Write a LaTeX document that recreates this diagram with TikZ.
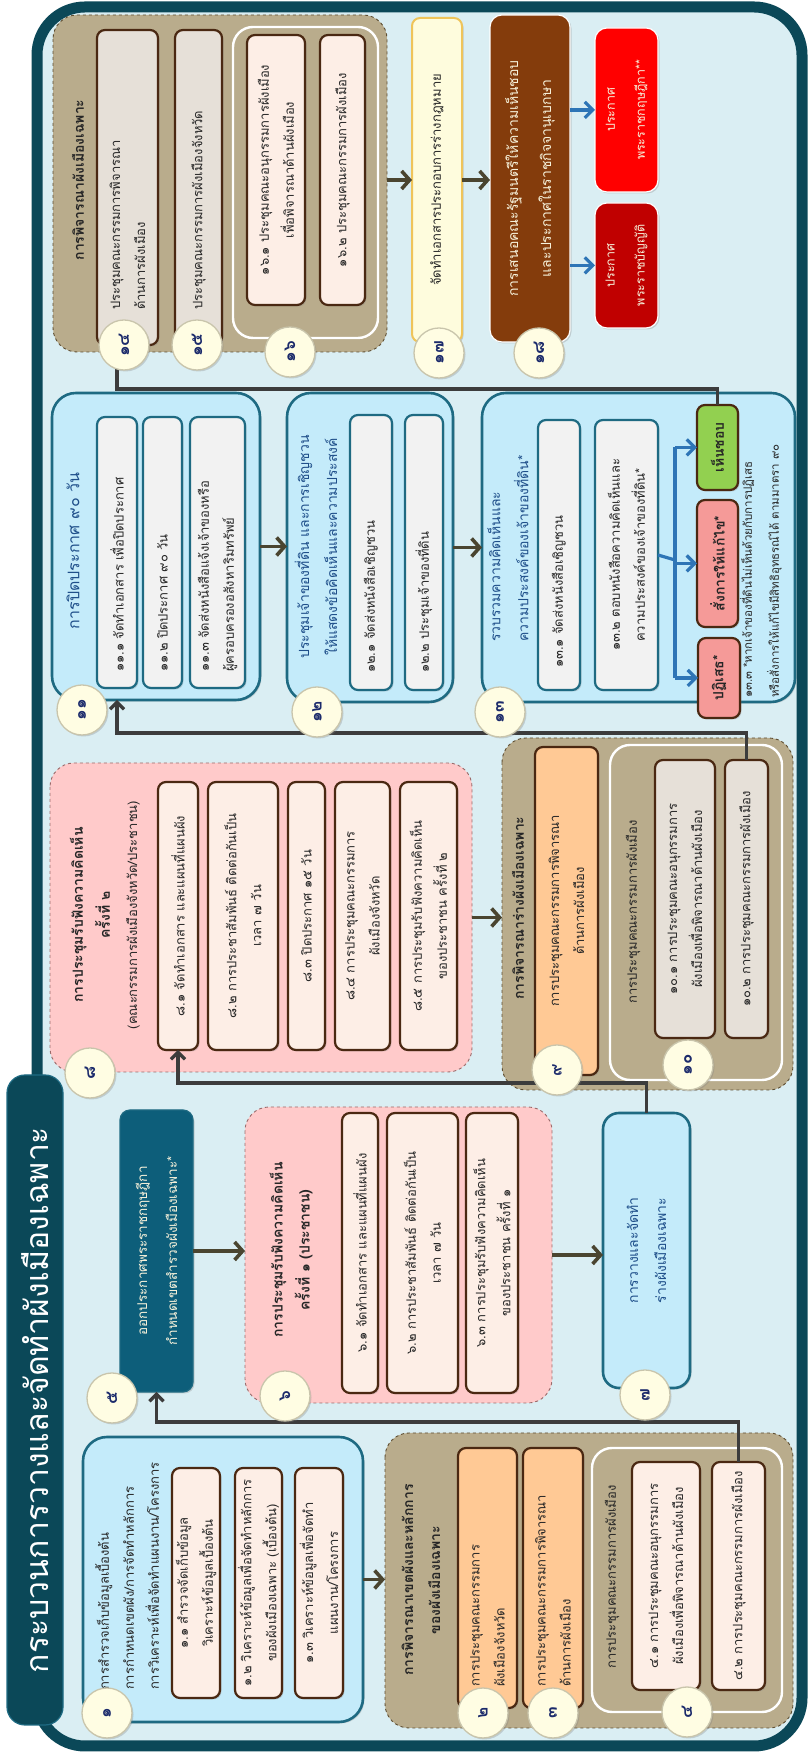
\documentclass[tikz,border=0pt]{standalone}
\usepackage{fontspec}
\setmainfont{Loma}[Script=Thai]
\usetikzlibrary{arrows.meta,shadows}
\definecolor{frame}{HTML}{0B4858}
\definecolor{bgc}{HTML}{DAEEF3}
\definecolor{lblue}{HTML}{C4EBFA}
\definecolor{tealb}{HTML}{1E6A82}
\definecolor{pinkg}{HTML}{FFCACA}
\definecolor{pinkb}{HTML}{9A6A6A}
\definecolor{browng}{HTML}{B9AC8C}
\definecolor{brownb}{HTML}{5E4E32}
\definecolor{cream}{HTML}{FDEEE6}
\definecolor{dbrown}{HTML}{4A2812}
\definecolor{greyb}{HTML}{F2F2F2}
\definecolor{orangeb}{HTML}{FFC995}
\definecolor{beige}{HTML}{E6E0D8}
\definecolor{boxv}{HTML}{0D5E7A}
\definecolor{txtcream}{HTML}{F6F1DA}
\definecolor{titleblue}{HTML}{1F4F8A}
\definecolor{bxvii}{HTML}{FEFCDD}
\definecolor{goldb}{HTML}{EFC45A}
\definecolor{bxviii}{HTML}{843C0C}
\definecolor{redA}{HTML}{FF0000}
\definecolor{redB}{HTML}{C00000}
\definecolor{okgreen}{HTML}{92D050}
\definecolor{nopink}{HTML}{F59A98}
\definecolor{arrblue}{HTML}{2E75B6}
\definecolor{circf}{HTML}{FFFDE3}
\definecolor{circb}{HTML}{C9C5AC}
\definecolor{navyc}{HTML}{1B2A6B}
\definecolor{connc}{HTML}{3C3C3C}
\definecolor{olivec}{HTML}{4A4530}
\definecolor{ttxt}{HTML}{262626}
\newcommand\fitem{\fontsize{13}{25}\selectfont}
\newcommand\fhead{\fontsize{14}{27}\selectfont\bfseries}
\newcommand\fbt{\fontsize{14}{28}\selectfont}
\newcommand\fcirc{\fontsize{17}{17}\selectfont\bfseries}
\newcommand\fnote{\fontsize{11.5}{27}\selectfont}
\tikzset{
 pp/.style 2 args={at={({1753-(#2)},{-(#1)})}},
 ext/.style n args={4}{at={({1753-((#3)+(#4))/2},{-((#1)+(#2))/2})},minimum width={((#4)-(#3))*1pt},minimum height={((#2)-(#1))*1pt}},
 bx/.style={inner sep=0pt,outer sep=0pt,font=\fitem,align=center,text=ttxt},
 shad/.style={drop shadow={shadow xshift=1.5pt,shadow yshift=-1.5pt,opacity=0.3}},
 bluegrp/.style={bx,draw=tealb,line width=2.6pt,fill=lblue,rounded corners=24pt,shad},
 pinkgrp/.style={bx,draw=pinkb,dashed,line width=0.9pt,fill=pinkg,rounded corners=24pt},
 browngrp/.style={bx,draw=brownb,dashed,line width=0.9pt,fill=browng,rounded corners=24pt},
 whitegrp/.style={bx,draw=white,line width=2.4pt,rounded corners=20pt},
 creambox/.style={bx,draw=dbrown,line width=2.2pt,fill=cream,rounded corners=8pt,shad},
 beigebox/.style={creambox,fill=beige},
 orangebox/.style={creambox,fill=orangeb},
 greybox/.style={bx,draw=tealb,line width=2.2pt,fill=greyb,rounded corners=8pt,shad},
 lt/.style={align=left,text width=#1},
 ttl/.style={bx,font=\fhead},
 btl/.style={bx,font=\fbt,text=titleblue},
 circ/.style={circle,draw=circb,line width=1.3pt,fill=circf,minimum size=50pt,inner sep=0pt,font=\fcirc,text=navyc,shad},
 cn/.style={draw=connc,line width=3.2pt,-{Straight Barb[length=7pt,width=14pt]}},
 sa/.style={draw=olivec,line width=3.6pt,-{Straight Barb[length=8pt,width=18pt]}},
 ba/.style={draw=arrblue,line width=3.2pt},
 bah/.style={ba,-{Straight Barb[length=8pt,width=16pt]}},
}
\begin{document}
\begin{tikzpicture}[x=1pt,y=1pt]
\useasboundingbox (0,0) rectangle (807,1753);
\begin{scope}[rotate=90,transform shape]
\draw[line width=11pt,draw=frame,fill=bgc,rounded corners=48pt] (7,-37) rectangle (1746,-802);
\node[bx,ext={7}{63}{1075}{1725},fill=frame,draw=tealb,line width=1.2pt,rounded corners=18pt,text=white,font=\fontsize{32}{32}\selectfont] (title) {กระบวนการวางและจัดทำผังเมืองเฉพาะ};

% ---- 1
\node[bluegrp,ext={83}{363}{1437}{1722}] (m1) {};
\node[bx,anchor=west,align=left,pp={127}{1690}] (t1) {การสำรวจเก็บข้อมูลเบื้องต้น\\การกำหนดเขตผัง/การจัดทำหลักการ\\การวิเคราะห์เพื่อจัดทำแผนงาน/โครงการ};
\node[creambox,ext={172}{220}{1468}{1698}] (s1a) {๑.๑ สำรวจจัดเก็บข้อมูล\\วิเคราะห์ข้อมูลเบื้องต้น};
\node[creambox,ext={235}{282}{1468}{1698}] (s1b) {๑.๒ วิเคราะห์ข้อมูลเพื่อจัดทำหลักการ\\ของผังเมืองเฉพาะ (เบื้องต้น)};
\node[creambox,ext={295}{343}{1468}{1698}] (s1c) {๑.๓ วิเคราะห์ข้อมูลเพื่อจัดทำ\\แผนงาน/โครงการ};

% ---- 2-4
\node[browngrp,ext={385}{793}{1433}{1728}] (g24) {};
\node[ttl,pp={421}{1580}] (t24) {การพิจารณาเขตผังและหลักการ\\ของผังเมืองเฉพาะ};
\node[orangebox,lt=218pt,ext={458}{517}{1448}{1708}] (m2) {การประชุมคณะกรรมการ\\ผังเมืองจังหวัด};
\node[orangebox,lt=218pt,ext={523}{583}{1448}{1708}] (m3) {การประชุมคณะกรรมการพิจารณา\\ด้านการผังเมือง};
\node[whitegrp,ext={592}{782}{1448}{1712}] (sg4) {};
\node[bx,pp={612}{1577}] (t4) {การประชุมคณะกรรมการผังเมือง};
\node[creambox,ext={632}{700}{1462}{1690}] (s4a) {๔.๑ การประชุมคณะอนุกรรมการ\\ผังเมืองเพื่อพิจารณาด้านผังเมือง};
\node[creambox,ext={712}{765}{1462}{1690}] (s4b) {๔.๒ การประชุมคณะกรรมการผังเมือง};

% ---- 5,6,7
\node[bx,ext={120}{193}{1110}{1392},fill=boxv,draw=tealb,line width=1.2pt,rounded corners=10pt,text=txtcream,font=\fontsize{13.5}{30}\selectfont,shad] (m5) {ออกประกาศพระราชกฤษฎีกา\\กำหนดเขตสำรวจผังเมืองเฉพาะ*};
\node[pinkgrp,ext={245}{552}{1107}{1403}] (m6) {};
\node[ttl,pp={291}{1250}] (t6) {การประชุมรับฟังความคิดเห็น\\ครั้งที่ ๑ (ประชาชน)};
\node[creambox,ext={342}{378}{1113}{1393}] (s6a) {๖.๑ จัดทำเอกสาร และแผนที่แผนผัง};
\node[creambox,ext={387}{458}{1113}{1393}] (s6b) {๖.๒ การประชาสัมพันธ์ ติดต่อกันเป็น\\เวลา ๗ วัน};
\node[creambox,ext={466}{518}{1113}{1393}] (s6c) {๖.๓ การประชุมรับฟังความคิดเห็น\\ของประชาชน ครั้งที่ ๑};
\node[bluegrp,ext={603}{690}{1113}{1388},rounded corners=16pt,text=titleblue,font=\fbt] (m7) {การวางและจัดทำ\\ร่างผังเมืองเฉพาะ};

% ---- 8
\node[pinkgrp,ext={50}{472}{763}{1072}] (m8) {};
\node[ttl,pp={90}{915}] (t8) {การประชุมรับฟังความคิดเห็น\\ครั้งที่ ๒};
\node[bx,pp={133}{915}] (t8b) {(คณะกรรมการผังเมืองจังหวัด/ประชาชน)};
\node[creambox,ext={158}{198}{782}{1050}] (s8a) {๘.๑ จัดทำเอกสาร และแผนที่แผนผัง};
\node[creambox,ext={208}{278}{782}{1050}] (s8b) {๘.๒ การประชาสัมพันธ์ ติดต่อกันเป็น\\เวลา ๗ วัน};
\node[creambox,ext={288}{325}{782}{1050}] (s8c) {๘.๓ ปิดประกาศ ๑๕ วัน};
\node[creambox,ext={335}{390}{782}{1050}] (s8d) {๘.๔ การประชุมคณะกรรมการ\\ผังเมืองจังหวัด};
\node[creambox,ext={400}{457}{782}{1050}] (s8e) {๘.๕ การประชุมรับฟังความคิดเห็น\\ของประชาชน ครั้งที่ ๒};

% ---- 9,10
\node[browngrp,ext={502}{793}{738}{1090}] (g910) {};
\node[ttl,pp={518}{908}] (t910) {การพิจารณาร่างผังเมืองเฉพาะ};
\node[orangebox,ext={535}{598}{747}{1075}] (m9) {การประชุมคณะกรรมการพิจารณา\\ด้านการผังเมือง};
\node[whitegrp,ext={610}{782}{745}{1080}] (sg10) {};
\node[bx,pp={633}{912}] (t10) {การประชุมคณะกรรมการผังเมือง};
\node[beigebox,ext={655}{715}{760}{1038}] (s10a) {๑๐.๑ การประชุมคณะอนุกรรมการ\\ผังเมืองเพื่อพิจารณาด้านผังเมือง};
\node[beigebox,ext={725}{768}{760}{1038}] (s10b) {๑๐.๒ การประชุมคณะกรรมการผังเมือง};

% ---- 11
\node[bluegrp,ext={52}{260}{393}{700}] (m11) {};
\node[btl,pp={73}{551},font=\fontsize{16}{28}\selectfont] (t11) {การปิดประกาศ ๙๐ วัน};
\node[greybox,lt=239pt,ext={97}{137}{417}{688}] (s11a) {๑๑.๑ จัดทำเอกสาร เพื่อปิดประกาศ};
\node[greybox,lt=239pt,ext={143}{182}{417}{688}] (s11b) {๑๑.๒ ปิดประกาศ ๙๐ วัน};
\node[greybox,lt=239pt,ext={190}{245}{417}{688}] (s11c) {๑๑.๓ จัดส่งหนังสือแจ้งเจ้าของหรือ\\ผู้ครอบครองอสังหาริมทรัพย์};

% ---- 12
\node[bluegrp,ext={287}{453}{393}{702}] (m12) {};
\node[btl,pp={316}{547}] (t12) {ประชุมเจ้าของที่ดิน และการเชิญชวน\\ให้แสดงข้อคิดเห็นและความประสงค์};
\node[greybox,lt=241pt,ext={350}{392}{415}{690}] (s12a) {๑๒.๑ จัดส่งหนังสือเชิญชวน};
\node[greybox,lt=241pt,ext={405}{443}{415}{690}] (s12b) {๑๒.๒ ประชุมเจ้าของที่ดิน};

% ---- 13
\node[bluegrp,ext={482}{795}{393}{702}] (m13) {};
\node[btl,anchor=west,align=left,pp={508}{642}] (t13) {รวบรวมความคิดเห็นและ\\ความประสงค์ของเจ้าของที่ดิน*};
\node[greybox,lt=226pt,ext={538}{580}{420}{690}] (s13a) {๑๓.๑ จัดส่งหนังสือเชิญชวน};
\node[greybox,ext={595}{658}{420}{690}] (s13b) {๑๓.๒ ตอบหนังสือความคิดเห็นและ\\ความประสงค์ของเจ้าของที่ดิน*};
\node[creambox,fill=okgreen,ext={697}{738}{405}{490},font=\fontsize{14}{20}\selectfont\bfseries] (dA) {เห็นชอบ};
\node[creambox,fill=nopink,ext={697}{738}{500}{627},font=\fontsize{14}{20}\selectfont\bfseries] (dB) {สั่งการให้แก้ไข*};
\node[creambox,fill=nopink,ext={698}{740}{638}{718},font=\fontsize{14}{20}\selectfont\bfseries] (dC) {ปฏิเสธ*};
\node[bx,anchor=west,align=left,font=\fnote,pp={761}{698}] (n13) {๑๓.๓ *หากเจ้าของที่ดินไม่เห็นด้วยกับการปฏิเสธ\\หรือสั่งการให้แก้ไขมีสิทธิอุทธรณ์ได้ ตามมาตรา ๙๐};

% ---- 14-16
\node[browngrp,ext={53}{387}{15}{352}] (g1416) {};
\node[ttl,pp={78}{180}] (t1416) {การพิจารณาผังเมืองเฉพาะ};
\node[beigebox,lt=245pt,ext={97}{158}{30}{345}] (m14) {ประชุมคณะกรรมการพิจารณา\\ด้านการผังเมือง};
\node[beigebox,lt=245pt,ext={175}{222}{30}{345}] (m15) {ประชุมคณะกรรมการผังเมืองจังหวัด};
\node[whitegrp,ext={233}{378}{27}{338}] (sg16) {};
\node[creambox,ext={247}{305}{35}{305}] (s16a) {๑๖.๑ ประชุมคณะอนุกรรมการผังเมือง\\เพื่อพิจารณาด้านผังเมือง};
\node[creambox,ext={320}{365}{35}{305}] (s16b) {๑๖.๒ ประชุมคณะกรรมการผังเมือง};

% ---- 17,18
\node[bx,ext={412}{462}{18}{342},fill=bxvii,draw=goldb,line width=2pt,rounded corners=8pt,shad] (m17) {จัดทำเอกสารประกอบการร่างกฎหมาย};
\node[bx,ext={490}{570}{15}{342},fill=bxviii,draw=white,line width=1.2pt,rounded corners=12pt,text=txtcream,font=\fontsize{14}{33}\selectfont,shad] (m18) {การเสนอคณะรัฐมนตรีให้ความเห็นชอบ\\และประกาศในราชกิจจานุเบกษา};
\node[bx,ext={595}{658}{28}{192},fill=redA,draw=white,line width=1.2pt,rounded corners=12pt,text=txtcream,font=\fontsize{12.5}{30}\selectfont,shad] (rA) {ประกาศ\\พระราชกฤษฎีกา**};
\node[bx,ext={595}{658}{203}{328},fill=redB,draw=white,line width=1.2pt,rounded corners=12pt,text=txtcream,font=\fontsize{12.5}{30}\selectfont,shad] (rB) {ประกาศ\\พระราชบัญญัติ};

% ---- connectors
\coordinate[pp={155}{1422}] (k45);
\coordinate[pp={178}{1083}] (k78);
\coordinate[pp={117}{733}] (k1011);
\coordinate[pp={117}{389}] (k1314);
\coordinate[pp={675}{560}] (kb);
\draw[sa] (m1.south) -- (m1.south |- g24.north);
\draw[cn] (s4b.east) -| (k45) |- (m5.west);
\draw[sa] (m5.south) -- (m5.south |- m6.north);
\draw[sa] (m6.south) -- (m6.south |- m7.north);
\draw[cn] (m7.east) -| (k78) |- (s8a.west);
\draw[sa] (m8.south) -- (m8.south |- g910.north);
\draw[cn] (s10b.east) -| (k1011) -- (k1011 -| m11.west);
\draw[sa] (m11.south) -- (m11.south |- m12.north);
\draw[sa] (m12.south) -- (m12.south |- m13.north);
\draw[ba] (s13b.south) -- (kb);
\draw[ba] (kb -| dC.center) -- (kb -| dA.center);
\draw[bah] (kb -| dA.center) -- (dA.north);
\draw[bah] (kb -| dB.center) -- (dB.north);
\draw[bah] (kb -| dC.center) -- (dC.north);
\draw[cn] (dA.east) -| (k1314) -- (k1314 -| m14.west);
\draw[sa] (m17.north |- g1416.south) -- (m17.north);
\draw[sa] (m17.south) -- (m17.south |- m18.north);
\draw[bah] (rA.north |- m18.south) -- (rA.north);
\draw[bah] (rB.north |- m18.south) -- (rB.north);

% ---- circles
\node[circ,pp={107}{1713}] (c1) {๑};
\node[circ,pp={483}{1713}] (c2) {๒};
\node[circ,pp={553}{1713}] (c3) {๓};
\node[circ,pp={687}{1712}] (c4) {๔};
\node[circ,pp={112}{1398}] (c5) {๕};
\node[circ,pp={285}{1396}] (c6) {๖};
\node[circ,pp={645}{1395}] (c7) {๗};
\node[circ,pp={90}{1073}] (c8) {๘};
\node[circ,pp={557}{1070}] (c9) {๙};
\node[circ,pp={688}{1065}] (c10) {๑๐};
\node[circ,pp={82}{710}] (c11) {๑๑};
\node[circ,pp={317}{712}] (c12) {๑๒};
\node[circ,pp={500}{712}] (c13) {๑๓};
\node[circ,pp={124}{345}] (c14) {๑๔};
\node[circ,pp={197}{345}] (c15) {๑๕};
\node[circ,pp={290}{352}] (c16) {๑๖};
\node[circ,pp={439}{353}] (c17) {๑๗};
\node[circ,pp={539}{353}] (c18) {๑๘};
\end{scope}
\end{tikzpicture}
\end{document}
